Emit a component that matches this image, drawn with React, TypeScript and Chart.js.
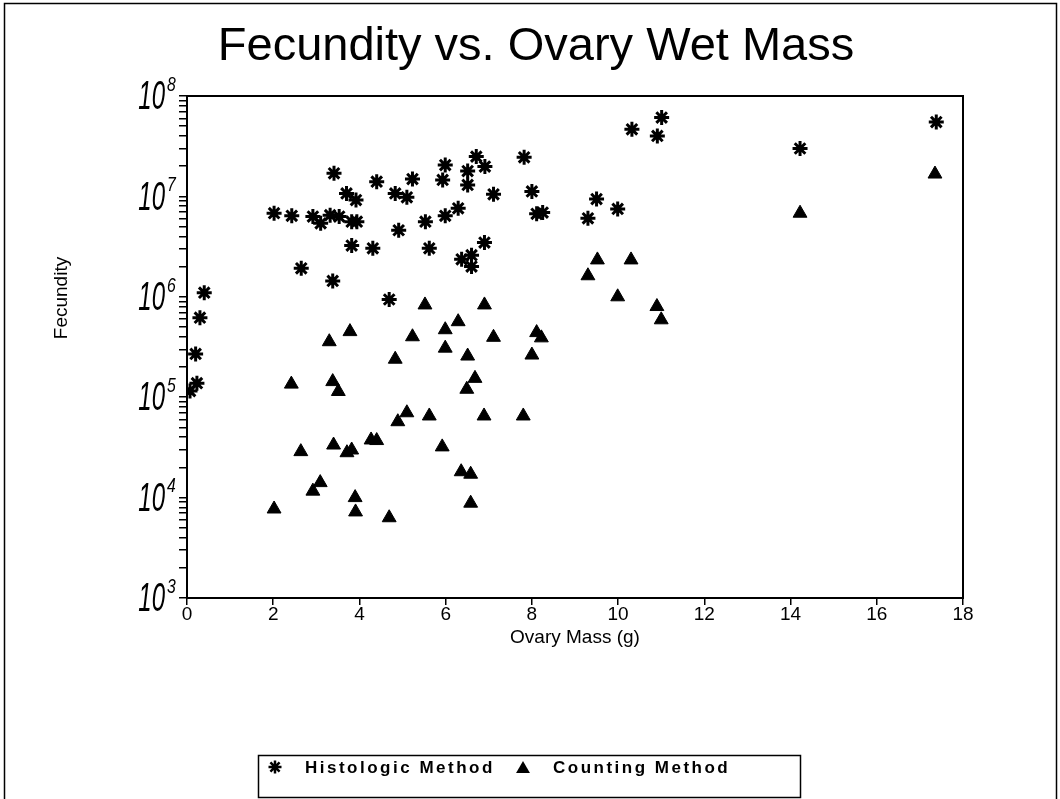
import React, { useEffect, useRef } from "react";
import { Chart, registerables } from "chart.js";

Chart.register(...registerables);

const titleText = "Fecundity vs. Ovary Wet Mass";
const xTitle = "Ovary Mass (g)";
const yTitle = "Fecundity";
const seriesNames = ["Histologic Method", "Counting Method"];
const xTicks = [0, 2, 4, 6, 8, 10, 12, 14, 16, 18];
const yTickBase = "10";
const yTickExponents = [3, 4, 5, 6, 7, 8];

const histX = [
  0.07, 0.23, 0.2, 0.3, 0.4, 2.02, 2.43, 2.65, 2.92, 3.1, 3.32, 3.41, 3.38, 3.53, 3.7, 3.82, 3.82, 3.92,
  3.94, 4.31, 4.4, 4.69, 4.83, 4.91, 5.1, 5.23, 5.53, 5.62, 5.93, 5.99, 5.99, 6.29, 6.51, 6.51, 6.71,
  6.91, 6.9, 6.37, 6.6, 6.6, 7.11, 7.82, 8.0, 8.11, 8.25, 9.3, 9.5, 9.99, 10.32, 10.91, 11.01, 14.22, 17.38,
];
const histY = [
  1.15e5, 1.38e5, 2.7e5, 6.2e5, 1.1e6, 6.8e6, 6.4e6, 1.92e6, 6.3e6, 5.4e6, 6.5e6, 1.7e7, 1.44e6, 6.3e6,
  1.07e7, 5.6e6, 3.24e6, 9.2e6, 5.6e6, 3.04e6, 1.4e7, 9.4e5, 1.07e7, 4.6e6, 9.8e6, 1.49e7, 5.6e6, 3.04e6,
  1.46e7, 2.05e7, 6.4e6, 7.6e6, 1.79e7, 1.3e7, 2.49e7, 1.98e7, 3.47e6, 2.36e6, 2.6e6, 2.0e6, 1.05e7,
  2.45e7, 1.12e7, 6.7e6, 6.9e6, 6.05e6, 9.4e6, 7.5e6, 4.66e7, 4.0e7, 6.1e7, 3.0e7, 5.5e7,
];

const countX = [
  2.02, 2.42, 2.64, 2.92, 3.09, 3.3, 3.38, 3.4, 3.51, 3.71, 3.82, 3.78, 3.9, 3.91, 4.27, 4.4, 4.69, 4.83,
  4.89, 5.1, 5.23, 5.52, 5.62, 5.92, 5.99, 5.99, 6.29, 6.36, 6.49, 6.51, 6.58, 6.58, 6.68, 6.9, 6.89, 7.11,
  7.8, 8.0, 8.11, 8.22, 9.3, 9.52, 9.99, 10.3, 10.9, 11.0, 14.22, 17.35,
];
const countY = [
  7.7e3, 1.35e5, 2.87e4, 1.16e4, 1.41e4, 3.57e5, 1.43e5, 3.34e4, 1.14e5, 2.8e4, 2.98e4, 4.5e5, 1.0e4,
  7.2e3, 3.75e4, 3.7e4, 6.3e3, 2.39e5, 5.7e4, 7.0e4, 4.0e5, 8.3e5, 6.5e4, 3.2e4, 4.7e5, 3.08e5, 5.65e5,
  1.81e4, 1.2e5, 2.57e5, 1.71e4, 8.8e3, 1.54e5, 8.3e5, 6.5e4, 3.95e5, 6.5e4, 2.63e5, 4.4e5, 3.9e5,
  1.62e6, 2.33e6, 1.0e6, 2.33e6, 8.0e5, 5.9e5, 6.8e6, 1.67e7,
];

const FONT = '"Liberation Sans", Arial, Helvetica, sans-serif';

function drawStar(ctx: CanvasRenderingContext2D, x: number, y: number, r: number) {
  ctx.beginPath();
  for (let i = 0; i < 4; i++) {
    const a = (i * Math.PI) / 4;
    ctx.moveTo(x - Math.cos(a) * r, y - Math.sin(a) * r);
    ctx.lineTo(x + Math.cos(a) * r, y + Math.sin(a) * r);
  }
  ctx.stroke();
}

function drawTriangle(ctx: CanvasRenderingContext2D, x: number, y: number, r: number) {
  ctx.beginPath();
  let a = 0;
  ctx.moveTo(x + Math.sin(a) * r, y - Math.cos(a) * r);
  a += (2 * Math.PI) / 3;
  ctx.lineTo(x + Math.sin(a) * r, y - Math.cos(a) * r);
  a += (2 * Math.PI) / 3;
  ctx.lineTo(x + Math.sin(a) * r, y - Math.cos(a) * r);
  ctx.closePath();
  ctx.fill();
}

const decorPlugin = {
  id: "decor",
  afterDraw(chart: any) {
    const ctx: CanvasRenderingContext2D = chart.ctx;
    const { left, right, top, bottom } = chart.chartArea;
    const ys = chart.scales.y;
    ctx.save();
    ctx.strokeStyle = "#000";
    ctx.fillStyle = "#000";

    // outer frame
    ctx.lineWidth = 1.5;
    ctx.strokeRect(4.5, 3.5, 1052, 800);

    // plot frame
    ctx.lineWidth = 2;
    ctx.strokeRect(left, top, right - left, bottom - top);

    // title
    ctx.font = `47px ${FONT}`;
    ctx.textAlign = "center";
    ctx.textBaseline = "alphabetic";
    ctx.fillText(titleText, 536, 60);

    // y title
    ctx.save();
    ctx.translate(62, 298);
    ctx.rotate(-Math.PI / 2);
    ctx.font = `19px ${FONT}`;
    ctx.textAlign = "center";
    ctx.textBaseline = "middle";
    ctx.fillText(yTitle, 0, 0);
    ctx.restore();

    // y tick labels (10 with superscript exponent)
    yTickExponents.forEach((e) => {
      const py = ys.getPixelForValue(Math.pow(10, e));
      ctx.save();
      ctx.translate(165, py);
      ctx.scale(0.6, 1);
      ctx.font = `italic 40px ${FONT}`;
      ctx.textAlign = "right";
      ctx.textBaseline = "middle";
      ctx.fillText(yTickBase, 0, 2);
      ctx.restore();
      ctx.save();
      ctx.translate(167, py - 11);
      ctx.scale(0.75, 1);
      ctx.font = `italic 21px ${FONT}`;
      ctx.textAlign = "left";
      ctx.textBaseline = "middle";
      ctx.fillText(String(e), 0, 0);
      ctx.restore();
    });

    // legend
    ctx.lineWidth = 1.5;
    ctx.strokeRect(258.5, 755.5, 542, 42);
    ctx.lineWidth = 2.5;
    drawStar(ctx, 275, 767, 6.5);
    drawTriangle(ctx, 523, 769, 8);
    ctx.font = `bold 17px ${FONT}`;
    (ctx as any).letterSpacing = "2.5px";
    ctx.textAlign = "left";
    ctx.textBaseline = "middle";
    ctx.fillText(seriesNames[0], 305, 768);
    ctx.fillText(seriesNames[1], 553, 768);
    ctx.restore();
  },
};

export default function App() {
  const canvasRef = useRef<HTMLCanvasElement | null>(null);

  useEffect(() => {
    if (!canvasRef.current) return;
    const chart = new Chart(canvasRef.current, {
      type: "scatter",
      data: {
        datasets: [
          {
            label: seriesNames[0],
            data: histX.map((x, i) => ({ x, y: histY[i] })),
            pointStyle: "star",
            pointRadius: 7.5,
            pointBorderWidth: 3,
            borderColor: "#000",
            backgroundColor: "#000",
          },
          {
            label: seriesNames[1],
            data: countX.map((x, i) => ({ x, y: countY[i] })),
            pointStyle: "triangle",
            pointRadius: 8,
            pointBorderWidth: 1,
            borderColor: "#000",
            backgroundColor: "#000",
          },
        ],
      },
      options: {
        responsive: false,
        animation: false,
        devicePixelRatio: 1,
        layout: { padding: { left: 0, top: 96, right: 97, bottom: 150 } },
        plugins: {
          legend: { display: false },
          title: { display: false },
          tooltip: { enabled: false },
        },
        scales: {
          x: {
            type: "linear",
            min: 0,
            max: 18,
            afterBuildTicks: (s: any) => {
              s.ticks = xTicks.map((v) => ({ value: v }));
            },
            afterFit: (s: any) => {
              s.height = 51;
            },
            grid: {
              display: true,
              drawOnChartArea: false,
              drawTicks: true,
              tickLength: 7,
              color: "#000",
              lineWidth: 1.5,
            },
            border: { display: true, color: "#000", width: 2 },
            ticks: {
              color: "#000",
              font: { family: FONT, size: 19 },
              padding: -2,
              maxRotation: 0,
              autoSkip: false,
            },
            title: {
              display: true,
              text: xTitle,
              color: "#000",
              font: { family: FONT, size: 19 },
              padding: { top: 0, bottom: 0 },
            },
          },
          y: {
            type: "logarithmic",
            min: 1000,
            max: 1e8,
            afterBuildTicks: (s: any) => {
              const t: any[] = [];
              for (let e = 3; e < 8; e++) {
                for (let m = 1; m < 10; m++) t.push({ value: m * Math.pow(10, e), major: m === 1 });
              }
              t.push({ value: 1e8, major: true });
              s.ticks = t;
            },
            afterFit: (s: any) => {
              s.width = 187;
            },
            grid: {
              display: true,
              drawOnChartArea: false,
              drawTicks: true,
              tickLength: 8,
              color: "#000",
              lineWidth: 1.5,
            },
            border: { display: true, color: "#000", width: 2 },
            ticks: { display: false },
          },
        },
      },
      plugins: [decorPlugin],
    });
    return () => chart.destroy();
  }, []);

  return (
    <div style={{ position: "fixed", left: 0, top: 0, width: 1060, height: 799, background: "#fff" }}>
      <canvas ref={canvasRef} width={1060} height={799} style={{ display: "block" }} />
    </div>
  );
}
